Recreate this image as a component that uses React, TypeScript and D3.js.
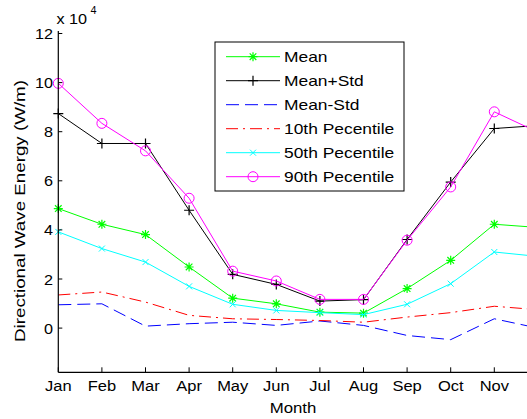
import React from "react";
import * as d3 from "d3";

// values in units of 1e4 W/m
const months = ["Jan", "Feb", "Mar", "Apr", "May", "Jun", "Jul", "Aug", "Sep", "Oct", "Nov", "Dec"];
const meanVals = [4.87, 4.23, 3.81, 2.49, 1.22, 0.99, 0.65, 0.61, 1.61, 2.76, 4.23, 4.1];
const meanPlusStd = [8.74, 7.52, 7.52, 4.8, 2.19, 1.78, 1.1, 1.16, 3.61, 5.95, 8.13, 8.25];
const meanMinusStd = [0.95, 0.99, 0.08, 0.18, 0.24, 0.11, 0.29, 0.11, -0.3, -0.47, 0.38, 0.0];
const p10 = [1.35, 1.47, 1.06, 0.52, 0.38, 0.35, 0.31, 0.24, 0.45, 0.63, 0.89, 0.75];
const p50 = [3.92, 3.24, 2.69, 1.7, 0.97, 0.72, 0.63, 0.55, 0.97, 1.81, 3.1, 2.92];
const p90 = [9.97, 8.34, 7.22, 5.29, 2.32, 1.92, 1.17, 1.17, 3.58, 5.75, 8.81, 7.98];
const yTicks = [0, 2, 4, 6, 8, 10, 12];

const series = [
  { name: "Mean", values: meanVals, color: "#00ff00", dash: "", marker: "star" },
  { name: "Mean+Std", values: meanPlusStd, color: "#000000", dash: "", marker: "plus" },
  { name: "Mean-Std", values: meanMinusStd, color: "#0000ff", dash: "13,6", marker: "" },
  { name: "10th Pecentile", values: p10, color: "#ff0000", dash: "12,5,2,5", marker: "" },
  { name: "50th Pecentile", values: p50, color: "#00ffff", dash: "", marker: "x" },
  { name: "90th Pecentile", values: p90, color: "#ff00ff", dash: "", marker: "circle" },
];

const W = 527;
const H = 419;
const FONT = "'Liberation Sans', Arial, Helvetica, sans-serif";

const x = d3.scaleLinear().domain([1, 12]).range([58.3, 537.9]);
const y = d3.scaleLinear().domain([-1.8, 12]).range([372.3, 33.5]);

function Marker({ type, cx, cy, color }) {
  if (type === "star") {
    const r = 4.5, d = 3.3;
    return (
      <path
        d={`M${cx - r},${cy}H${cx + r}M${cx},${cy - r}V${cy + r}M${cx - d},${cy - d}L${cx + d},${cy + d}M${cx - d},${cy + d}L${cx + d},${cy - d}`}
        stroke={color} strokeWidth={1.2} fill="none"
      />
    );
  }
  if (type === "plus") {
    const r = 5;
    return <path d={`M${cx - r},${cy}H${cx + r}M${cx},${cy - r}V${cy + r}`} stroke={color} strokeWidth={1.2} fill="none" />;
  }
  if (type === "x") {
    const r = 3;
    return <path d={`M${cx - r},${cy - r}L${cx + r},${cy + r}M${cx - r},${cy + r}L${cx + r},${cy - r}`} stroke={color} strokeWidth={1} fill="none" />;
  }
  if (type === "circle") {
    return <circle cx={cx} cy={cy} r={5} stroke={color} strokeWidth={1} fill="none" />;
  }
  return null;
}

// text drawn a little wider than the font, as in the picture
function SText({ x0, y0, sx = 1.12, anchor = "start", size = 15, children }) {
  return (
    <text
      transform={`translate(${x0},${y0}) scale(${sx},1)`}
      textAnchor={anchor}
      fontSize={size}
      fontFamily={FONT}
      fill="#000"
    >
      {children}
    </text>
  );
}

export default function App() {
  const line = d3.line<number>()
    .x((_, i) => x(i + 1))
    .y((d) => y(d));

  const legX = 215, legY = 42, legW = 189, legH = 149;

  return (
    <svg width={W} height={H} style={{ position: "absolute", left: 0, top: 0, background: "#fff" }}>
      <rect width={W} height={H} fill="#fff" />

      {/* series lines */}
      {series.map((s) => (
        <g key={s.name}>
          <path d={line(s.values) || ""} fill="none" stroke={s.color} strokeWidth={1} strokeDasharray={s.dash || undefined} />
          {s.marker && s.values.map((v, i) => (
            <Marker key={i} type={s.marker} cx={x(i + 1)} cy={y(v)} color={s.color} />
          ))}
        </g>
      ))}

      {/* axes */}
      <line x1={x(1)} x2={W} y1={y(-1.8)} y2={y(-1.8)} stroke="#000" strokeWidth={1.2} />
      <line x1={x(1)} x2={x(1)} y1={y(-1.8)} y2={31} stroke="#000" strokeWidth={1.2} />
      {months.map((m, i) => (
        <g key={m}>
          <line x1={x(i + 1)} x2={x(i + 1)} y1={y(-1.8)} y2={y(-1.8) - 5} stroke="#000" />
          {/* the last month sits past the picture's right edge */}
          {x(i + 1) < W && <SText x0={x(i + 1)} y0={391} anchor="middle" sx={1.1}>{m}</SText>}
        </g>
      ))}
      {yTicks.map((t) => (
        <g key={t}>
          <line x1={x(1)} x2={x(1) + 4} y1={y(t)} y2={y(t)} stroke="#000" />
          <SText x0={53} y0={y(t) + 5.5} anchor="end" sx={1.08}>{t}</SText>
        </g>
      ))}

      {/* exponent */}
      <SText x0={56.5} y0={23.5} sx={1.08}>x 10</SText>
      <SText x0={90.5} y0={14} sx={1.08} size={10}>4</SText>

      {/* axis labels */}
      <SText x0={293} y0={413} anchor="middle" sx={1.12}>Month</SText>
      <text
        transform="translate(24.5,211) rotate(-90)"
        textAnchor="middle"
        fontSize={15}
        fontFamily={FONT}
        textLength={262}
        lengthAdjust="spacingAndGlyphs"
      >
        Directional Wave Energy (W/m)
      </text>

      {/* legend */}
      <rect x={legX} y={legY} width={legW} height={legH} fill="#fff" stroke="#000" strokeWidth={1} />
      {series.map((s, i) => {
        const cy = 56.7 + i * 24;
        return (
          <g key={s.name}>
            <line x1={226} x2={280} y1={cy} y2={cy} stroke={s.color} strokeWidth={1} strokeDasharray={s.dash || undefined} />
            {s.marker && <Marker type={s.marker} cx={253} cy={cy} color={s.color} />}
            <SText x0={284} y0={cy + 5.5} sx={1.16}>{s.name}</SText>
          </g>
        );
      })}
    </svg>
  );
}
